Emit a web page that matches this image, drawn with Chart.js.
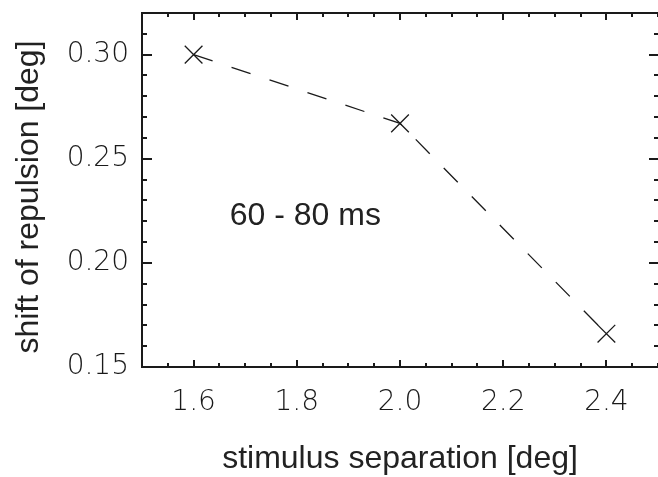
<!DOCTYPE html>
<html>
<head>
<meta charset="utf-8">
<title>shift of repulsion</title>
<script src="https://cdn.jsdelivr.net/npm/chart.js@4/dist/chart.umd.min.js"></script>
<style>
  html, body { margin: 0; padding: 0; background: #fff; }
  #wrap { position: relative; width: 658px; height: 477px; }
</style>
</head>
<body>
<div id="wrap"><canvas id="chart"></canvas></div>
<script>
// stimulus separation [deg] vs. shift of repulsion [deg]
const separation = [1.6, 2.0, 2.4];
const shift = [0.300, 0.267, 0.166];

const xTicks = [1.6, 1.8, 2.0, 2.2, 2.4];
const xTickLabels = ['1.6', '1.8', '2.0', '2.2', '2.4'];
const yTicks = [0.15, 0.20, 0.25, 0.30];
const yTickLabels = ['0.15', '0.20', '0.25', '0.30'];

const xTitle = 'stimulus separation [deg]';
const yTitle = 'shift of repulsion [deg]';
const windowLabel = '60 - 80 ms';
const windowLabelAt = [1.67, 0.218];

const ink = '#1a1a1a';
const tickFont = { family: '"DejaVu Sans", sans-serif', size: 28, weight: 200 };
const titleFont = { family: '"Liberation Sans", Arial, sans-serif', size: 32, lineHeight: 1 };
const titleCss = `${titleFont.size}px ${titleFont.family}`;

// keep the plot box where it is: no extra room for overhanging labels
const noOverhang = s => {
    s.paddingTop = 0; s.paddingBottom = 0;
    s.paddingLeft = 0; s.paddingRight = 0;
};

// IDL style box: open on the right (it sits just past the edge),
// inward major/minor ticks, the y title and the text label
const framePlugin = {
    id: 'frame',
    afterDatasetsDraw(chart) {
        const ctx = chart.ctx;
        const x = chart.scales.x, y = chart.scales.y;
        const a = chart.chartArea;
        const right = a.right + 1;
        ctx.save();
        ctx.strokeStyle = ink;
        ctx.lineWidth = 2;
        ctx.beginPath();
        ctx.moveTo(right + 2, a.top);
        ctx.lineTo(a.left, a.top);
        ctx.lineTo(a.left, a.bottom);
        ctx.lineTo(right + 2, a.bottom);
        ctx.stroke();

        ctx.beginPath();
        for (let v = 1.5; v <= 2.5001; v += 0.05) {
            const px = Math.round(x.getPixelForValue(v));
            const major = xTicks.some(t => Math.abs(t - v) < 1e-6);
            const len = major ? 7 : 4;
            ctx.moveTo(px, a.bottom); ctx.lineTo(px, a.bottom - len);
            ctx.moveTo(px, a.top); ctx.lineTo(px, a.top + len);
        }
        for (let v = 0.15; v <= 0.3201; v += 0.01) {
            const py = Math.round(y.getPixelForValue(v));
            const major = yTicks.some(t => Math.abs(t - v) < 1e-6);
            const len = major ? 10 : 5;
            ctx.moveTo(a.left, py); ctx.lineTo(a.left + len, py);
            ctx.moveTo(right, py); ctx.lineTo(right - len, py);
        }
        ctx.stroke();

        ctx.fillStyle = '#222';
        ctx.font = titleCss;
        ctx.textBaseline = 'alphabetic';
        ctx.textAlign = 'left';
        ctx.fillText(windowLabel, x.getPixelForValue(windowLabelAt[0]), y.getPixelForValue(windowLabelAt[1]));

        ctx.translate(38, (a.top + a.bottom) / 2 + 7);
        ctx.rotate(-Math.PI / 2);
        ctx.textAlign = 'center';
        ctx.fillText(yTitle, 0, 0);
        ctx.restore();
    }
};

const ctx = document.getElementById('chart').getContext('2d');
new Chart(ctx, {
    type: 'line',
    data: {
        datasets: [{
            data: separation.map((s, i) => ({ x: s, y: shift[i] })),
            borderColor: ink,
            borderWidth: 1.3,
            borderDash: [20, 20],
            pointStyle: 'crossRot',
            pointRadius: 12.5,
            pointBorderWidth: 1.3,
            pointBorderColor: ink,
            pointHoverRadius: 12.5,
            fill: false,
            tension: 0
        }]
    },
    options: {
        responsive: true,
        maintainAspectRatio: false,
        animation: false,
        layout: { autoPadding: false, padding: { top: 13, right: -1, left: 0, bottom: 0 } },
        plugins: { legend: { display: false }, tooltip: { enabled: false } },
        scales: {
            x: {
                type: 'linear',
                min: 1.5,
                max: 2.5,
                afterBuildTicks: s => { s.ticks = xTicks.map(v => ({ value: v })); },
                afterFit: s => { s.height = 110; noOverhang(s); },
                grid: { display: false, drawTicks: false },
                border: { display: false },
                ticks: {
                    autoSkip: false,
                    maxRotation: 0,
                    padding: 19,
                    color: ink,
                    font: tickFont,
                    callback: (v, i) => xTickLabels[i]
                },
                title: {
                    display: true,
                    text: xTitle,
                    color: '#222',
                    font: titleFont,
                    padding: { top: 0, bottom: 2 }
                }
            },
            y: {
                type: 'linear',
                min: 0.15,
                max: 0.32,
                afterBuildTicks: s => { s.ticks = yTicks.map(v => ({ value: v })); },
                afterFit: s => { s.width = 142; noOverhang(s); },
                grid: { display: false, drawTicks: false },
                border: { display: false },
                ticks: {
                    autoSkip: false,
                    padding: 13,
                    color: ink,
                    font: tickFont,
                    callback: (v, i) => yTickLabels[i]
                },
                title: { display: false }
            }
        }
    },
    plugins: [framePlugin]
});
</script>
</body>
</html>
